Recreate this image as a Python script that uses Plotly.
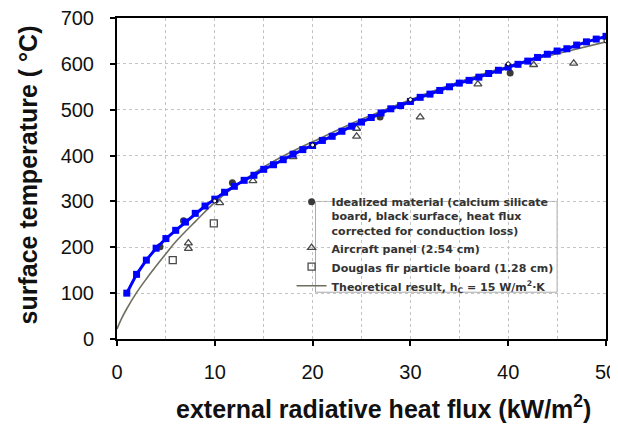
import plotly.graph_objects as go

# ---------------- data ----------------
x_ticks = [0, 10, 20, 30, 40, 50]
y_ticks = [0, 100, 200, 300, 400, 500, 600, 700]

fit_x = list(range(1, 51))
fit_y = [100, 141, 172, 198, 219, 237, 255, 274, 290, 305,
         320, 333, 346, 357, 370, 380, 391, 403, 413, 422,
         433, 442, 453, 464, 473, 483, 493, 502, 509, 518,
         527, 534, 542, 550, 558, 564, 571, 579, 586, 593,
         599, 606, 614, 621, 628, 633, 641, 648, 654, 660]

theory_x = [0, 0.5, 1, 2, 3, 4, 5, 6, 8, 10, 12, 15, 18, 20, 25, 30, 35, 40, 45, 50]
theory_y = [22, 46, 66, 101, 131, 159, 186, 212, 256, 298, 332, 375, 410, 430, 479, 522, 561, 595, 622, 648]

theory_pts_x = [10, 20, 30, 40, 50]
theory_pts_y = [301, 423, 522, 600, 650]

ideal_x = [4.4, 6.8, 11.8, 26.9, 40.2]
ideal_y = [201, 258, 341, 484, 580]

aircraft_x = [7.3, 7.3, 10.5, 13.9, 18.0, 24.5, 24.5, 31.0, 36.9, 42.6, 46.7]
aircraft_y = [197, 209, 297, 345, 397, 442, 459, 484, 556, 598, 601]

douglas_x = [5.7, 9.9]
douglas_y = [172, 252]

FONT = "Arial, Liberation Sans, sans-serif"
LFONT = "DejaVu Sans, Arial, sans-serif"
MK = "#4a4a4a"

fig = go.Figure()

fig.add_trace(go.Scatter(
    x=ideal_x, y=ideal_y, mode="markers",
    name="Idealized material (calcium silicate<br>board, black surface, heat flux<br>corrected for conduction loss)",
    marker=dict(symbol="circle", size=7, color="#3a3a3a")))
fig.add_trace(go.Scatter(
    x=aircraft_x, y=aircraft_y, mode="markers",
    name="Aircraft panel (2.54 cm)",
    marker=dict(symbol="triangle-up-open", size=7, color=MK, line=dict(width=1.3))))
fig.add_trace(go.Scatter(
    x=douglas_x, y=douglas_y, mode="markers",
    name="Douglas fir particle board (1.28 cm)",
    marker=dict(symbol="square-open", size=7, color=MK, line=dict(width=1.3))))
fig.add_trace(go.Scatter(
    x=theory_x, y=theory_y, mode="lines", line_shape="spline",
    name="Theoretical result, h<sub>C</sub> = 15 W/m<sup>2</sup>·K",
    line=dict(color="#6e6e60", width=1.6)))
fig.add_trace(go.Scatter(
    x=fit_x, y=fit_y, mode="lines+markers", showlegend=False,
    line=dict(color="#0000ff", width=3),
    marker=dict(symbol="square", size=7, color="#0000ff")))
fig.add_trace(go.Scatter(
    x=theory_pts_x, y=theory_pts_y, mode="markers", showlegend=False,
    marker=dict(symbol="circle", size=4, color="white", line=dict(color="black", width=1))))

grid = dict(showgrid=True, gridcolor="#c4c4c4", gridwidth=1, griddash="dot")
over = dict(showticklabels=False, showgrid=False, showline=False, zeroline=False, automargin=False)

# the page body has an 8px default margin, so the figure is sized to fit the 618x424 window
fig.update_layout(
    template="none",
    width=610, height=416,
    margin=dict(l=108.5, r=11.5, t=10, b=85, pad=0),
    paper_bgcolor="white", plot_bgcolor="white",
    font=dict(family=FONT, color="black"),
    xaxis=dict(range=[0, 50], tickvals=x_ticks, ticks="outside", ticklen=5, tickwidth=2,
               tickcolor="black", showline=True, linecolor="black", linewidth=2, mirror=True,
               tickfont=dict(size=20, color="#111"), ticklabelstandoff=9, zeroline=False,
               automargin=False, ticklabeloverflow="allow",
               minor=dict(dtick=5, showgrid=True, gridcolor="#c4c4c4", griddash="dot"), **grid),
    yaxis=dict(range=[0, 700], tickvals=y_ticks, ticks="outside", ticklen=5, tickwidth=2,
               tickcolor="black", showline=True, linecolor="black", linewidth=2, mirror=True,
               tickfont=dict(size=20, color="#111"), ticklabelstandoff=12, zeroline=False,
               automargin=False, ticklabeloverflow="allow", **grid),
    xaxis2=dict(overlaying="x", anchor="y", side="bottom", range=[0, 50], tickvals=x_ticks,
                ticks="inside", ticklen=5, tickwidth=2, tickcolor="black", **over),
    xaxis3=dict(overlaying="x", anchor="y", side="top", range=[0, 50], dtick=5, tick0=0,
                ticks="inside", ticklen=4, tickwidth=1.5, tickcolor="black", **over),
    yaxis2=dict(overlaying="y", anchor="x", side="left", range=[0, 700], tickvals=y_ticks,
                ticks="inside", ticklen=5, tickwidth=2, tickcolor="black", **over),
    yaxis3=dict(overlaying="y", anchor="x", side="right", range=[0, 700], tickvals=y_ticks,
                ticks="inside", ticklen=5, tickwidth=1.5, tickcolor="black", **over),
    legend=dict(x=0.357, y=0.47, xanchor="left", yanchor="top",
                bgcolor="rgba(0,0,0,0)", borderwidth=0, valign="top",
                font=dict(family=LFONT, size=11, color="#333", weight="bold"),
                tracegroupgap=0, itemwidth=30),
    shapes=[dict(type="rect", xref="x", yref="y", x0=20.3, x1=45.0, y0=102, y1=300,
                 fillcolor="white", line=dict(color="#aaaaaa", width=1), layer="below")],
    annotations=[
        dict(text="external radiative heat flux (kW/m<sup>2</sup>)", xref="paper", yref="paper",
             x=0.545, y=-0.212, xanchor="center", yanchor="middle", showarrow=False,
             font=dict(family=FONT, size=25, color="#111", weight="bold")),
        dict(text="surface temperature ( °C)", xref="paper", yref="paper", textangle=-90,
             x=-0.183, y=0.511, xanchor="center", yanchor="middle", showarrow=False,
             font=dict(family=FONT, size=25, color="#111", weight="bold")),
    ],
)

fig.write_html("out.html")
